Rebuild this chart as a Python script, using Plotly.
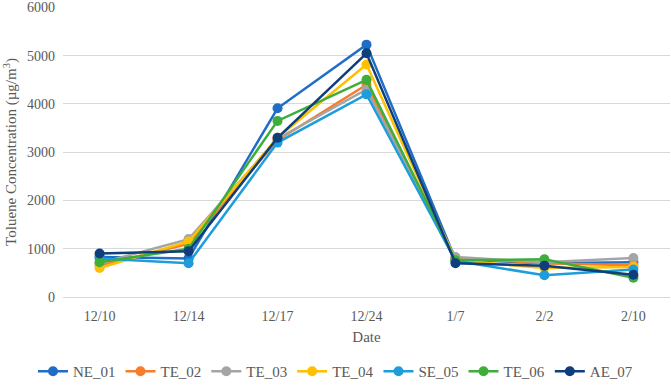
import plotly.graph_objects as go

dates = ["12/10", "12/14", "12/17", "12/24", "1/7", "2/2", "2/10"]
series_names = ["NE_01", "TE_02", "TE_03", "TE_04", "SE_05", "TE_06", "AE_07"]
ne_01 = [830, 800, 3910, 5230, 780, 700, 720]
te_02 = [650, 1100, 3250, 4400, 810, 700, 660]
te_03 = [700, 1200, 3280, 4300, 830, 720, 810]
te_04 = [600, 1150, 3300, 4820, 760, 600, 620]
se_05 = [800, 700, 3200, 4200, 750, 450, 570]
te_06 = [720, 1000, 3650, 4500, 760, 780, 400]
ae_07 = [900, 950, 3300, 5050, 700, 650, 460]
colors = ["#1F6DC4", "#F97C2A", "#A5A5A5", "#FFC000", "#1F9DDB", "#3DAE3A", "#0E3E7C"]

values = [ne_01, te_02, te_03, te_04, se_05, te_06, ae_07]

fig = go.Figure()
for name, vals, col in zip(series_names, values, colors):
    fig.add_trace(go.Scatter(
        x=dates, y=vals, name=name, mode="lines+markers",
        line=dict(color=col, width=2.5),
        marker=dict(color=col, size=10),
    ))

font = "Liberation Serif"
fig.update_layout(
    template="none",
    width=671, height=388,
    margin=dict(l=63, r=1, t=7, b=91),
    paper_bgcolor="white", plot_bgcolor="white",
    font=dict(family=font, size=14, color="#595959"),
    showlegend=True,
    legend=dict(
        orientation="h", xref="container", yref="container",
        x=0.5, xanchor="center", y=-0.01, yanchor="bottom",
        font=dict(family=font, size=15, color="#595959"),
        itemwidth=30, tracegroupgap=0,
    ),
    xaxis=dict(
        type="category", showgrid=False, showline=False, zeroline=False,
        tickfont=dict(family=font, size=14, color="#595959"),
        ticklabelstandoff=9,
        title=dict(text="Date", font=dict(family=font, size=15, color="#595959"), standoff=8),
        ticks="",
    ),
    yaxis=dict(
        range=[0, 6010], dtick=1000, tick0=0, showgrid=True, gridcolor="#D9D9D9", gridwidth=1.3,
        zeroline=True, zerolinecolor="#D9D9D9", zerolinewidth=1.3, showline=False,
        tickfont=dict(family=font, size=14, color="#595959"),
        ticklabelstandoff=7, ticklabeloverflow="allow",
        title=dict(text="Toluene Concentration (µg/m<sup>3</sup>)", font=dict(family=font, size=15, color="#595959"), standoff=6),
        ticks="",
    ),
)

fig.write_html("out.html", config={"displayModeBar": False},
               post_script="document.body.style.margin='0';")
